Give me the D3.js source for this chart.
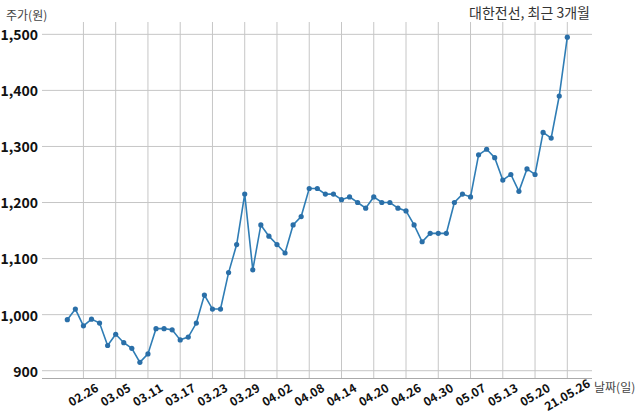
<!DOCTYPE html>
<html><head><meta charset="utf-8">
<script src="https://cdn.jsdelivr.net/npm/d3@7"></script>
<style>body{margin:0;background:#fff;} svg{display:block;font-family:"Noto Sans CJK KR","Noto Sans",sans-serif;}</style>
</head><body>
<script>
const dates = ["02.24","02.25","02.26","03.02","03.03","03.04","03.05","03.08","03.09","03.10","03.11","03.12","03.15","03.16","03.17","03.18","03.19","03.22","03.23","03.24","03.25","03.26","03.29","03.30","03.31","04.01","04.02","04.05","04.06","04.07","04.08","04.09","04.12","04.13","04.14","04.15","04.16","04.19","04.20","04.21","04.22","04.23","04.26","04.27","04.28","04.29","04.30","05.03","05.04","05.06","05.07","05.10","05.11","05.12","05.13","05.14","05.17","05.18","05.20","05.21","05.24","05.25","21.05.26"];
const prices = [991,1010,980,992,985,945,965,950,940,915,930,975,975,973,955,960,985,1035,1010,1010,1075,1125,1215,1080,1160,1140,1125,1110,1160,1175,1225,1225,1215,1215,1205,1210,1200,1190,1210,1200,1200,1190,1185,1160,1130,1145,1145,1145,1200,1215,1210,1285,1295,1280,1240,1250,1220,1260,1250,1325,1315,1390,1495];
const yTicks = [900,1000,1100,1200,1300,1400,1500];
const tickIdx = d3.range(2, dates.length, 4);

(function () {
const W = 640, H = 419;
const pLeft = 42, pRight = 592, pTop = 22, pBottom = 378;
const svg = d3.select("body").append("svg").attr("width", W).attr("height", H);

const x = d3.scaleLinear().domain([0, dates.length - 1]).range([67.3, 567.3]);
const y = d3.scaleLinear().domain([887, 1522]).range([pBottom, pTop]);

// horizontal gridlines
svg.append("g").selectAll("line").data(yTicks).join("line")
  .attr("x1", pLeft).attr("x2", pRight)
  .attr("y1", d => y(d)).attr("y2", d => y(d))
  .attr("stroke", "#c6c6c6").attr("stroke-width", 1);

// vertical gridlines
svg.append("g").selectAll("line").data(tickIdx).join("line")
  .attr("x1", d => x(d)).attr("x2", d => x(d))
  .attr("y1", pTop).attr("y2", pBottom)
  .attr("stroke", "#c6c6c6").attr("stroke-width", 1);

// x axis line
svg.append("line").attr("x1", pLeft).attr("x2", pRight).attr("y1", pBottom + 0.5).attr("y2", pBottom + 0.5)
  .attr("stroke", "#aaa").attr("stroke-width", 1);

// y tick labels
svg.append("g").selectAll("text").data(yTicks).join("text")
  .attr("x", 38).attr("y", d => y(d) + 1).attr("dy", "0.35em")
  .attr("text-anchor", "end").attr("font-size", 14).attr("font-weight", 600)
  .attr("fill", "#111").text(d => d3.format(",")(d));

// x tick labels
svg.append("g").selectAll("text").data(tickIdx).join("text")
  .attr("transform", d => `translate(${x(d)},395) rotate(-30)`)
  .attr("text-anchor", "middle").attr("dy", "0.35em")
  .attr("font-size", 12).attr("font-weight", 600).attr("fill", "#111").text(d => dates[d]);

// axis titles
svg.append("text").attr("x", 6).attr("y", 20).attr("font-size", 12).attr("fill", "#444").text("주가(원)");
svg.append("text").attr("x", 594).attr("y", 392).attr("font-size", 12).attr("fill", "#444").text("날짜(일)");
svg.append("text").attr("x", 590).attr("y", 18).attr("text-anchor", "end").attr("font-size", 14).attr("fill", "#333").text("대한전선, 최근 3개월");

// line
const line = d3.line().x((d, i) => x(i)).y(d => y(d));
svg.append("path").datum(prices).attr("d", line)
  .attr("fill", "none").attr("stroke", "#2f7db5").attr("stroke-width", 1.6);
svg.append("g").selectAll("circle").data(prices).join("circle")
  .attr("cx", (d, i) => x(i)).attr("cy", d => y(d)).attr("r", 2.6)
  .attr("fill", "#2a6fa8");
})();
</script>
</body></html>
